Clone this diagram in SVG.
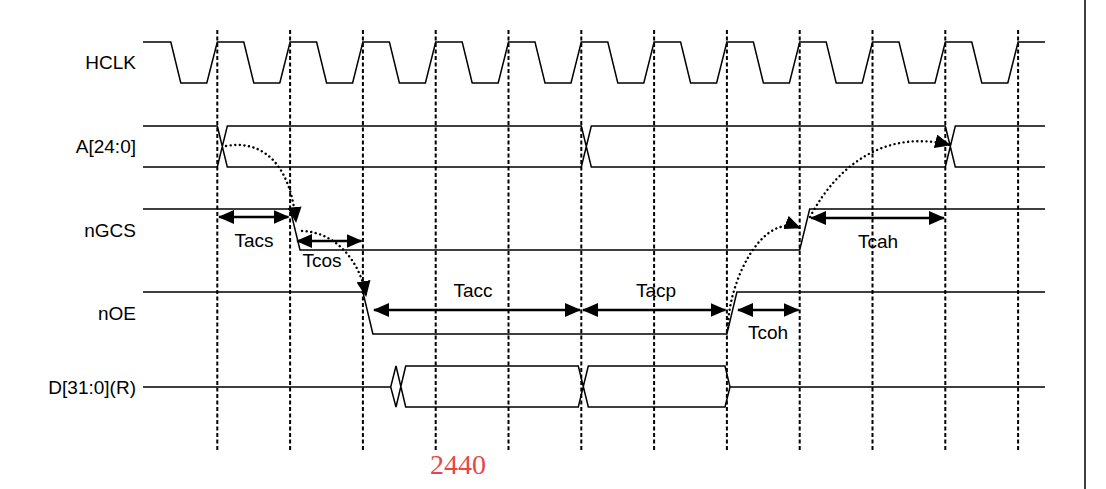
<svg xmlns="http://www.w3.org/2000/svg" width="1106" height="489" viewBox="0 0 1106 489">
<style>
.sig{fill:none;stroke:#000;stroke-width:1.5}
.grid{stroke:#000;stroke-width:2;stroke-dasharray:4,2.5}
.dim{stroke:#000;stroke-width:2.5;marker-start:url(#ah);marker-end:url(#ah)}
.dot{fill:none;stroke:#000;stroke-width:2.4;stroke-dasharray:0.1,4.5;stroke-linecap:round;marker-end:url(#ah)}
.lbl{font-family:"Liberation Sans",Arial,sans-serif;font-size:19px;fill:#000}
</style>
<defs>
<marker id="ah" markerUnits="userSpaceOnUse" markerWidth="16" markerHeight="14" refX="15" refY="7" orient="auto-start-reverse" viewBox="0 0 16 14"><path d="M0,0 L16,7 L0,14 Z" fill="#000"/></marker>
</defs>
<rect width="1106" height="489" fill="#fff"/>
<line x1="1085" y1="0" x2="1085" y2="489" stroke="#000" stroke-width="1.5"/>
<g id="grid">
<line class="grid" x1="217.3" y1="30" x2="217.3" y2="452"/>
<line class="grid" x1="290.1" y1="30" x2="290.1" y2="452"/>
<line class="grid" x1="362.9" y1="30" x2="362.9" y2="452"/>
<line class="grid" x1="435.7" y1="30" x2="435.7" y2="452"/>
<line class="grid" x1="508.5" y1="30" x2="508.5" y2="452"/>
<line class="grid" x1="581.3" y1="30" x2="581.3" y2="452"/>
<line class="grid" x1="654.1" y1="30" x2="654.1" y2="452"/>
<line class="grid" x1="726.9" y1="30" x2="726.9" y2="452"/>
<line class="grid" x1="799.7" y1="30" x2="799.7" y2="452"/>
<line class="grid" x1="872.5" y1="30" x2="872.5" y2="452"/>
<line class="grid" x1="945.3" y1="30" x2="945.3" y2="452"/>
<line class="grid" x1="1018.1" y1="30" x2="1018.1" y2="452"/>
</g>
<g id="hclk">
<text class="lbl" x="136" y="69" text-anchor="end">HCLK</text>
<path class="sig" d="M143,42 H170.8 L180.8,83 H206.8 L217.3,42 H243.8 L253.8,83 H279.8 L290.1,42 H316.6 L326.6,83 H352.6 L362.9,42 H389.4 L399.4,83 H425.4 L435.7,42 H462.2 L472.2,83 H498.2 L508.5,42 H535 L545,83 H571 L581.3,42 H607.8 L617.8,83 H643.8 L654.1,42 H680.6 L690.6,83 H716.6 L726.9,42 H753.4 L763.4,83 H789.4 L799.7,42 H826.2 L836.2,83 H862.2 L872.5,42 H899 L909,83 H935 L945.3,42 H971.8 L981.8,83 H1007.8 L1018.1,42 H1045"/>
</g>
<g id="addr">
<text class="lbl" x="136" y="153" text-anchor="end">A[24:0]</text>
<path class="sig" d="M143,126 H217.3 L227.3,167 H581.3 L591.3,126 H945.3 L955.3,167 H1045 M143,167 H217.3 L227.3,126 H581.3 L591.3,167 H945.3 L955.3,126 H1045"/>
</g>
<g id="ngcs">
<text class="lbl" x="136" y="237" text-anchor="end">nGCS</text>
<path class="sig" d="M143,209 H290.1 L300,250 H799.7 L809.7,209 H1045"/>
</g>
<g id="noe">
<text class="lbl" x="136" y="320" text-anchor="end">nOE</text>
<path class="sig" d="M143,292 H362.9 L372.9,334 H726.9 L736.9,292 H1045"/>
</g>
<g id="data">
<text class="lbl" x="136" y="394" text-anchor="end">D[31:0](R)</text>
<path class="sig" d="M143,387 H390.7 L396,366 L405.7,407 H578.3 L588.3,366 H725 L730,387 H1045 M390.7,387 L396,407 L405.7,366 H578.3 L588.3,407 H725 L730,387"/>
</g>
<g id="connectors">
<line class="dim" x1="219" y1="217" x2="288.5" y2="217"/>
<line class="dim" x1="297" y1="241" x2="361.5" y2="241"/>
<line class="dim" x1="374" y1="310" x2="580" y2="310"/>
<line class="dim" x1="583" y1="310" x2="725.5" y2="310"/>
<line class="dim" x1="738" y1="310" x2="798.5" y2="310"/>
<line class="dim" x1="811" y1="218" x2="944" y2="218"/>
<path class="dot" d="M226,146 C260,140 290,160 296,222"/>
<path class="dot" d="M302,231 C335,232 360,260 366,296"/>
<path class="dot" d="M728,328 C728,285 760,212 800,228"/>
<path class="dot" d="M810,217 C840,160 890,130 950,145"/>
</g>
<g id="labels">
<text class="lbl" x="254" y="247" text-anchor="middle">Tacs</text>
<text class="lbl" x="322" y="267" text-anchor="middle">Tcos</text>
<text class="lbl" x="473" y="297" text-anchor="middle">Tacc</text>
<text class="lbl" x="656" y="297" text-anchor="middle">Tacp</text>
<text class="lbl" x="768" y="339" text-anchor="middle">Tcoh</text>
<text class="lbl" x="878" y="248" text-anchor="middle">Tcah</text>
<text x="458" y="474" text-anchor="middle" font-family="'Liberation Serif',serif" font-size="28" fill="#e84545">2440</text>
</g>
</svg>
